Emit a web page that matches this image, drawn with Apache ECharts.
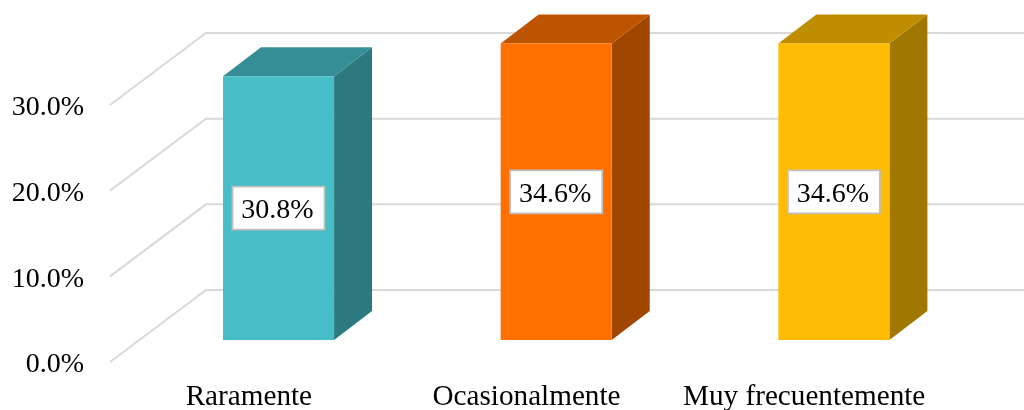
<!DOCTYPE html>
<html>
<head>
<meta charset="utf-8">
<style>html,body{margin:0;padding:0;background:#fff}#c{width:1024px;height:410px}</style>
<script src="https://cdn.jsdelivr.net/npm/echarts@6/dist/echarts.min.js"></script>
</head>
<body>
<div id="c"></div>
<script>
const categories = ['Raramente', 'Ocasionalmente', 'Muy frecuentemente'];
const percentages = [30.8, 34.6, 34.6];
const valueTicks = [0, 10, 20, 30];
const frontColors = ['#47BDC7', '#FF7000', '#FFBC05'];
const topColors = ['#358E96', '#BF5400', '#BF8D00'];
const sideColors = ['#2C7A7F', '#A04600', '#A07700'];

const FONT = '"Liberation Serif", "Times New Roman", serif';
const VALUE_FONT_SIZE = 28;
const CATEGORY_FONT_SIZE = 29.2;
// oblique projection of the 3-D box
const WALL_DX = 96, WALL_DY = 72;      // front plane to back wall
const BAR_DX = 29.7, BAR_DY = 22;      // front plane to bar's front face
const DEPTH_DX = 38, DEPTH_DY = 29;    // bar's own depth

const chart = echarts.init(document.getElementById('c'), null, {renderer: 'canvas'});

function renderWall(params, api) {
  const cs = params.coordSys;
  const y = api.coord([0, api.value(0)])[1];
  return {
    type: 'polyline',
    silent: true,
    shape: {points: [[cs.x, y], [cs.x + WALL_DX, y - WALL_DY], [api.getWidth(), y - WALL_DY]]},
    style: {stroke: '#D9D9D9', lineWidth: 2, fill: null}
  };
}

function renderBar(params, api) {
  const i = api.value(0);
  const v = api.value(1);
  const base = api.coord([i, 0]);
  const head = api.coord([i, v]);
  const w = api.size([1, 0])[0] * 0.4;
  const l = base[0] + BAR_DX - w / 2, r = l + w;
  const b = base[1] - BAR_DY, t = head[1] - BAR_DY;
  const mid = (t + b) / 2;
  const boxW = 92, boxH = 43;
  const cx = (l + r) / 2;
  return {
    type: 'group',
    children: [
      {type: 'polygon', shape: {points: [[r, t], [r + DEPTH_DX, t - DEPTH_DY], [r + DEPTH_DX, b - DEPTH_DY], [r, b]]},
        style: {fill: sideColors[i]}},
      {type: 'polygon', shape: {points: [[l, t], [l + DEPTH_DX, t - DEPTH_DY], [r + DEPTH_DX, t - DEPTH_DY], [r, t]]},
        style: {fill: topColors[i]}},
      {type: 'rect', shape: {x: l, y: t, width: w, height: b - t}, style: {fill: frontColors[i]}},
      {type: 'rect', shape: {x: cx - boxW / 2, y: mid - boxH / 2, width: boxW, height: boxH},
        style: {fill: '#FFFFFF', stroke: '#BFBFBF', lineWidth: 1.8}},
      {type: 'text', style: {x: cx - 1, y: mid + 3, text: v.toFixed(1) + '%', fill: '#000', font: VALUE_FONT_SIZE + 'px ' + FONT,
        align: 'center', verticalAlign: 'middle'}}
    ]
  };
}

chart.setOption({
  animation: false,
  grid: {left: 110, right: 81, top: 105, bottom: 48, containLabel: false, outerBoundsMode: 'none'},
  xAxis: {
    type: 'category',
    data: categories,
    axisLine: {show: false},
    axisTick: {show: false},
    axisLabel: {color: '#000', fontFamily: FONT, fontSize: CATEGORY_FONT_SIZE, margin: 21, interval: 0}
  },
  yAxis: {
    type: 'value',
    min: 0,
    max: 30,
    interval: 10,
    axisLine: {show: false},
    axisTick: {show: false},
    splitLine: {show: false},
    axisLabel: {color: '#000', fontFamily: FONT, fontSize: VALUE_FONT_SIZE, margin: 26,
      formatter: v => '{shifted|' + v.toFixed(1) + '%}',
      rich: {shifted: {fontFamily: FONT, fontSize: VALUE_FONT_SIZE, color: '#000', padding: [6, 0, 0, 0]}}}
  },
  series: [
    {type: 'custom', name: 'walls', clip: false, silent: true, z: 1, renderItem: renderWall,
      encode: {y: 0}, data: valueTicks.map(v => [v])},
    {type: 'custom', name: 'bars', clip: false, z: 2, renderItem: renderBar,
      encode: {x: 0, y: 1}, data: percentages.map((v, i) => [i, v])}
  ]
});
</script>
</body>
</html>
